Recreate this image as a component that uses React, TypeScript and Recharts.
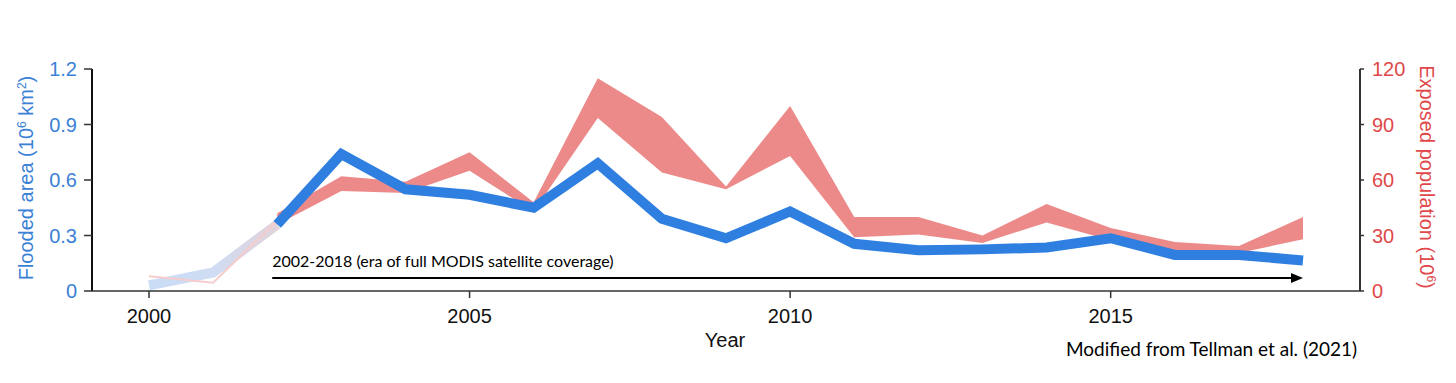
import React from 'react';
import { ComposedChart, Line, Area, XAxis, YAxis, ReferenceLine } from 'recharts';

const years = [2000, 2001, 2002, 2003, 2004, 2005, 2006, 2007, 2008, 2009, 2010, 2011, 2012, 2013, 2014, 2015, 2016, 2017, 2018];
// Flooded area (10^6 km^2)
const areaEarly = [0.03, 0.10, 0.36, null, null, null, null, null, null, null, null, null, null, null, null, null, null, null, null];
const areaMain = [null, null, 0.36, 0.74, 0.55, 0.52, 0.45, 0.69, 0.39, 0.285, 0.43, 0.255, 0.22, 0.225, 0.235, 0.285, 0.195, 0.195, 0.165];
// Exposed population (10^6)
const popEarly = [8, 4.5, 38, null, null, null, null, null, null, null, null, null, null, null, null, null, null, null, null];
const popLow = [null, null, 36, 54, 53, 65, 43, 93.5, 64, 55, 73, 29, 30.5, 26, 37, 27.5, 22, 20.5, 28];
const popHigh = [null, null, 42, 62, 59, 75, 48, 115, 94, 56.5, 100, 40, 40, 30, 47, 34, 26.5, 24.3, 40];

const leftTicks = [0, 0.3, 0.6, 0.9, 1.2];
const rightTicks = [0, 30, 60, 90, 120];
const xTicks = [2000, 2005, 2010, 2015];
const eraStart = 2002;
const eraEnd = 2018;
const eraLabel = '2002-2018 (era of full MODIS satellite coverage)';
const arrowLevel = 0.07;

const rows = years.map((y, i) => ({
  year: y,
  areaEarly: areaEarly[i],
  areaMain: areaMain[i],
  popEarly: popEarly[i],
  popRange: popLow[i] == null ? null : [popLow[i], popHigh[i]],
}));

const BLUE = '#2f7fe0';
const BLUE_TEXT = '#3b81d6';
const RED_TEXT = '#e0484b';
const AXIS_FONT = '"Liberation Sans", Arial, sans-serif';
const NOTE_FONT = 'Lato, "Open Sans", sans-serif';

const ArrowShape = (props: any) => {
  const { x1, y1, x2, y2 } = props;
  if (x1 == null) return null;
  return (
    <g>
      <line x1={x1 - 5} y1={y1} x2={x2 - 8} y2={y2} stroke="#000" strokeWidth={2} />
      <polygon points={`${x2},${y2} ${x2 - 12},${y2 - 5} ${x2 - 12},${y2 + 5}`} fill="#000" />
      <text x={x1 - 5} y={y1 - 11} fontFamily={NOTE_FONT} fontSize={16} fill="#000">{eraLabel}</text>
    </g>
  );
};

const sup: React.CSSProperties = { fontSize: '0.6em', verticalAlign: '0.6em', lineHeight: 0 };

export default function App() {
  return (
    <div style={{ position: 'absolute', left: 0, top: 0, width: 1456, height: 383, background: '#fff' }}>
      <ComposedChart width={1456} height={383} data={rows} margin={{ top: 69, right: 0, bottom: 62, left: 0 }}>
        <defs>
          <linearGradient id="fadeBlue" x1="0" y1="0" x2="1" y2="0">
            <stop offset="0%" stopColor="#cadcf6" />
            <stop offset="50%" stopColor="#cfdcf3" />
            <stop offset="100%" stopColor="#e2d3da" />
          </linearGradient>
        </defs>
        <XAxis
          dataKey="year"
          type="number"
          domain={[1999.111, 2018.889]}
          allowDataOverflow
          ticks={xTicks}
          height={30}
          tickSize={7}
          tickMargin={11}
          axisLine={{ stroke: '#666', strokeWidth: 2 }}
          tickLine={{ stroke: '#333', strokeWidth: 1.5 }}
          tick={{ fill: '#111', fontSize: 20, fontFamily: AXIS_FONT }}
        />
        <YAxis
          yAxisId="left"
          orientation="left"
          width={92}
          domain={[0, 1.2]}
          ticks={leftTicks}
          allowDataOverflow
          tickSize={8}
          tickMargin={7}
          tickFormatter={(v: number) => (v === 0 ? '0' : v.toFixed(1))}
          axisLine={{ stroke: '#111', strokeWidth: 2 }}
          tickLine={{ stroke: '#333', strokeWidth: 1.5 }}
          tick={{ fill: BLUE_TEXT, fontSize: 20, fontFamily: AXIS_FONT }}
        />
        <YAxis
          yAxisId="right"
          orientation="right"
          width={96}
          domain={[0, 120]}
          ticks={rightTicks}
          allowDataOverflow
          tickSize={4}
          tickMargin={8}
          axisLine={{ stroke: '#333', strokeWidth: 2 }}
          tickLine={{ stroke: '#333', strokeWidth: 1.5 }}
          tick={{ fill: RED_TEXT, fontSize: 20, fontFamily: AXIS_FONT }}
        />
        <Line
          yAxisId="left"
          dataKey="areaEarly"
          type="linear"
          stroke="url(#fadeBlue)"
          strokeWidth={10}
          dot={false}
          activeDot={false}
          isAnimationActive={false}
        />
        <Line
          yAxisId="right"
          dataKey="popEarly"
          type="linear"
          stroke="#f6cccc"
          strokeWidth={2}
          dot={false}
          activeDot={false}
          isAnimationActive={false}
        />
        <Line
          yAxisId="left"
          dataKey="areaMain"
          type="linear"
          stroke={BLUE}
          strokeWidth={10}
          dot={false}
          activeDot={false}
          isAnimationActive={false}
        />
        <Area
          yAxisId="right"
          dataKey="popRange"
          type="linear"
          stroke="none"
          fill="#dc2a2a"
          fillOpacity={0.55}
          dot={false}
          activeDot={false}
          isAnimationActive={false}
        />
        <ReferenceLine
          yAxisId="left"
          segment={[{ x: eraStart, y: arrowLevel }, { x: eraEnd, y: arrowLevel }]}
          shape={ArrowShape}
          ifOverflow="visible"
        />
      </ComposedChart>
      <div style={{ position: 'absolute', left: 26, top: 178, transform: 'translate(-50%, -50%) rotate(-90deg)', whiteSpace: 'nowrap', fontFamily: AXIS_FONT, fontSize: 20, color: BLUE_TEXT, lineHeight: 1 }}>
        Flooded area (10<span style={sup}>6</span> km<span style={sup}>2</span>)
      </div>
      <div style={{ position: 'absolute', left: 1427, top: 177, transform: 'translate(-50%, -50%) rotate(90deg)', whiteSpace: 'nowrap', fontFamily: AXIS_FONT, fontSize: 20, color: RED_TEXT, lineHeight: 1 }}>
        Exposed population (10<span style={sup}>6</span>)
      </div>
      <div style={{ position: 'absolute', left: 725, top: 340, transform: 'translate(-50%, -50%)', whiteSpace: 'nowrap', fontFamily: AXIS_FONT, fontSize: 20, color: '#111', lineHeight: 1 }}>
        Year
      </div>
      <div style={{ position: 'absolute', left: 1066, top: 339, whiteSpace: 'nowrap', fontFamily: NOTE_FONT, fontSize: 19, color: '#000', lineHeight: 1 }}>
        Modified from Tellman et al. (2021)
      </div>
    </div>
  );
}
